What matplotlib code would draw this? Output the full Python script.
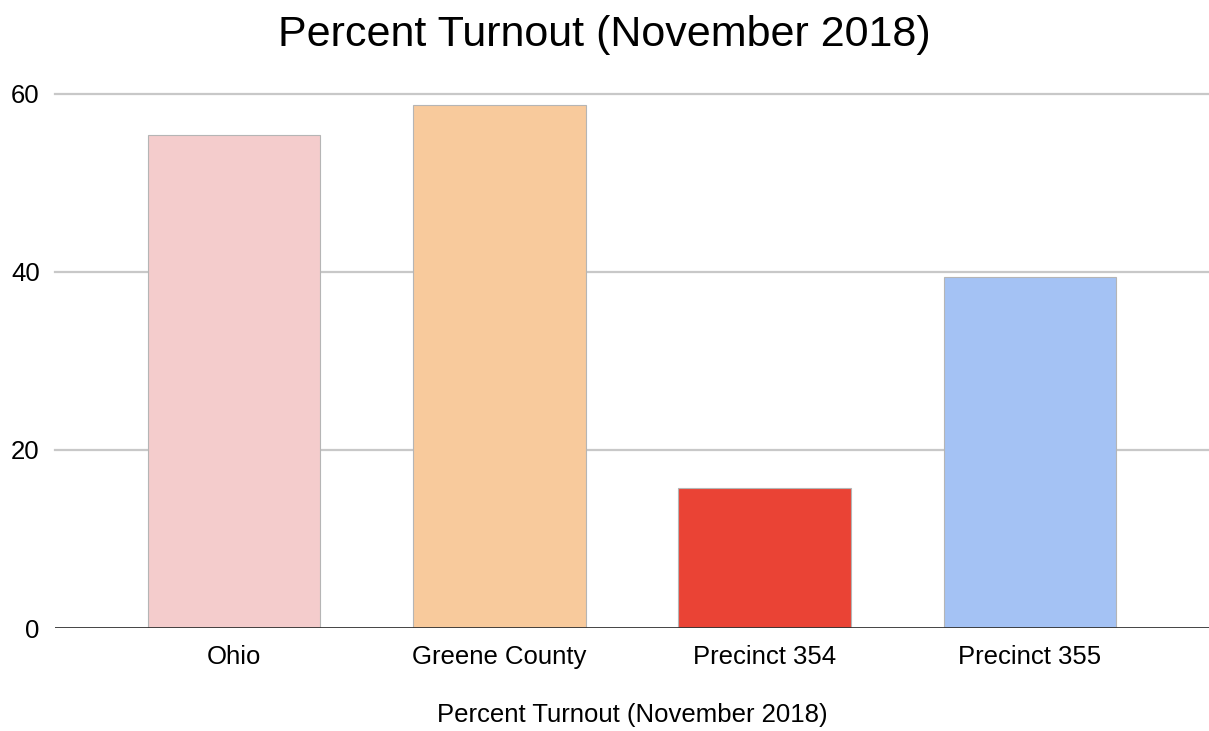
import matplotlib.pyplot as plt

plt.rcParams['font.family'] = ['Liberation Sans', 'DejaVu Sans']

# turnout figures, November 2018
places = ['Ohio', 'Greene County', 'Precinct 354', 'Precinct 355']
turnout = [55.4, 58.8, 15.7, 39.4]
bar_colors = ['#f4cccc', '#f8ca9c', '#ea4335', '#a4c2f4']
yticks = [0, 20, 40, 60]

fig = plt.figure(figsize=(12.09, 7.31), dpi=100)
ax = fig.add_axes([55/1209, 103/731, 1154/1209, 534/731])

x = range(len(places))
ax.bar(x, turnout, width=0.65, color=bar_colors, edgecolor='#b5b5b5',
       linewidth=0.8, zorder=3)

ax.set_xlim(-0.675, len(places) - 1 + 0.675)
ax.set_ylim(0, 60)
ax.set_yticks(yticks)
ax.set_yticklabels([str(t) for t in yticks], fontsize=18.5)
ax.set_xticks(list(x))
ax.set_xticklabels(places, fontsize=18.5)
ax.tick_params(axis='x', length=0, pad=12)
ax.tick_params(axis='y', length=0, pad=11)

for t in yticks[1:]:
    ax.axhline(t, color='#c8c8c8', linewidth=1.6, zorder=1, clip_on=False)
ax.axhline(0, color='#333333', linewidth=2, zorder=4)

for s in ax.spines.values():
    s.set_visible(False)

fig.text(0.5, 1 - 35/731, 'Percent Turnout (November 2018)', ha='center',
         va='center', fontsize=31)
ax.set_xlabel('Percent Turnout (November 2018)', fontsize=18.5, labelpad=25)

fig.savefig('out.png', dpi=100)
